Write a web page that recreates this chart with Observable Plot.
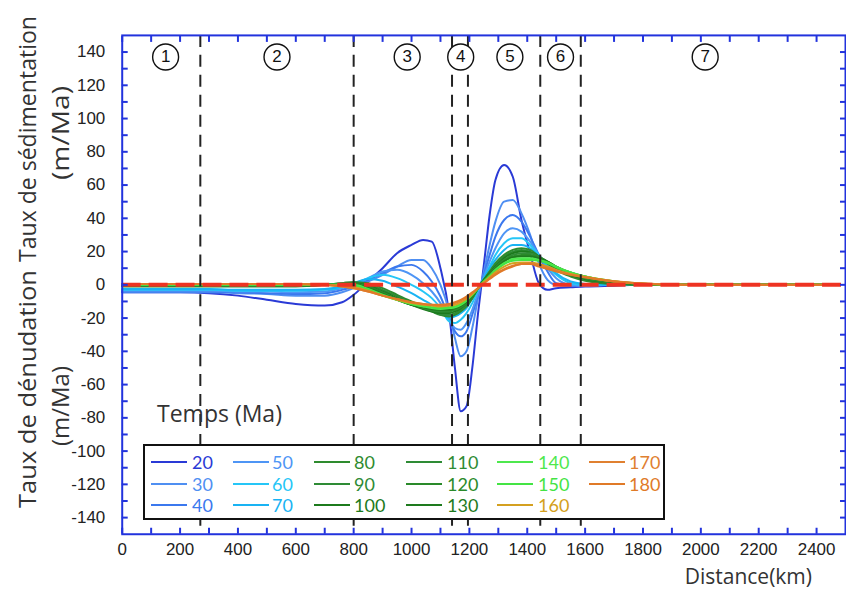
<!DOCTYPE html>
<html><head><meta charset="utf-8">
<script src="https://cdn.jsdelivr.net/npm/d3@7"></script>
<script src="https://cdn.jsdelivr.net/npm/@observablehq/plot@0.6"></script>
<style>
html,body{margin:0;padding:0;background:#fff;overflow:hidden;}
#chart{position:relative;width:846px;height:589px;overflow:hidden;}
#chart svg{position:absolute;left:0;top:0;overflow:visible;}
.legend{position:absolute;left:143px;top:444px;width:522px;height:76px;box-sizing:border-box;border:2px solid #111;background:#fff;}
.legend .ln{position:absolute;width:36px;height:2.5px;}
.legend .lt{position:absolute;font-family:Lato,sans-serif;font-size:18px;line-height:18px;transform:translateY(-50%);}
.temps{position:absolute;left:157px;top:400px;font-family:"Open Sans",sans-serif;font-size:23px;line-height:26px;color:#333;}
.dist{position:absolute;right:34px;top:564px;font-family:"Open Sans",sans-serif;font-size:21px;line-height:24px;color:#333;}
.ytitle{position:absolute;font-family:"Open Sans",sans-serif;font-size:24px;line-height:26px;color:#333;white-space:nowrap;}
</style></head><body><div id="chart"></div>
<script>
// distance grid (km)
const distance = [0, 200, 300, 400, 500, 600, 700, 760, 800, 850, 900, 950, 1000, 1040, 1070, 1100, 1130, 1150, 1170, 1190, 1210, 1230, 1250, 1270, 1290, 1320, 1350, 1380, 1410, 1440, 1470, 1500, 1550, 1600, 1700, 1800, 1900, 2000, 2200, 2450];
// rates (m/Ma) for each time step (Ma)
const s20  = [-4.5,-4.5,-5,-6.5,-9,-11.5,-12.5,-10.5,-6, 2,10,19,24,27,26,10,-17,-50,-76,-73,-50,-17,12,42,63,72,65,39,19,1,-3,-2,-1.5,-1,-0.5,0,0,0,0,0];
const s30  = [-4.5,-4.5,-4.5,-5,-5.5,-6.5,-6.5,-4.5,-2, 2,6,11,15,15,10,0,-16,-32,-43,-40,-26,-8,8,24,38,50,51,43,30,13,3,0,-0.5,-0.5,0,0,0,0,0,0];
const s40  = [-4,-4,-4,-4.5,-5,-5.5,-5,-3,-1, 3,7,11,12,8,2,-7,-20,-28,-31,-28,-18,-6,6,18,29,39,42,38,29,18,8,1,-0.5,0,0,0,0,0,0,0];
const s50  = [-3.5,-3.5,-3.5,-4,-4,-4.5,-4,-2,0, 4,8,9,6,1,-4,-11,-21,-26,-27,-23,-15,-5,5,14,22,31,34,32,26,18,10,4,0,-0.5,0,0,0,0,0,0];
const s60  = [-3,-3,-3,-3.5,-3.5,-3.5,-3,-1.5,0.5, 4,6,4,0,-4,-8,-14,-22,-23,-21,-17,-11,-3,4,11,18,25,28,28,24,18,11,6,1,0,0,0,0,0,0,0];
const s70  = [-2.5,-2.5,-2.5,-3,-3,-3,-2.5,-1,1, 3.5,2.5,-1,-5,-9,-12,-16,-20,-19,-17,-14,-8,-2,4,10,15,21,24,24,22,17,12,7,2,0.5,0,0,0,0,0,0];
const s80  = [-1,-1,-1,-1,-1,-1,0,1,1.5, 1,-2,-6,-10,-13,-15,-18,-19,-18,-16,-13,-8,-2,3,8,13,18,21,22,21,17,13,9,5,2.5,0.5,0,0,0,0,0];
const s90  = [-0.5,-0.5,-0.5,-0.5,-0.5,-0.5,0,1,1.5, 0,-3,-7,-11,-14,-16,-18,-18,-17,-15,-12,-8,-2,3,8,12,17,20,21,20,17,13,9.5,5.5,3,1,0,0,0,0,0];
const s100 = [-0.5,-0.5,-0.5,-0.5,-0.5,-0.5,0,0.5,1, -0.5,-4,-8,-12,-14.5,-16,-17,-17,-16,-14,-11,-7,-2,3,7,11,16,19,20,19.5,17,13.5,10,6,3.5,1,0.2,0,0,0,0];
const s110 = [-0.5,-0.5,-0.5,-0.5,-0.5,-0.5,0,0.5,0.5, -1,-4.5,-8.5,-12,-14,-15.5,-16,-16,-15,-13.5,-11,-7,-2,2.5,6.5,10.5,15,18,19,19,17,14,10.5,6.5,4,1.2,0.3,0,0,0,0];
const s120 = [0,0,0,0,0,0,0,0.5,0.5, -1.5,-5,-9,-12,-13.5,-15,-15.5,-15.5,-14.5,-13,-10.5,-7,-2,2.5,6,10,14.5,17,18,18,16.5,14,11,7,4.5,1.5,0.4,0,0,0,0];
const s130 = [0,0,0,0,0,0,0,0,0, -2,-5.5,-9,-12,-13.5,-14.5,-15,-15,-14,-12.5,-10,-6.5,-2,2.5,6,9.5,14,16.5,17,17,16,14,11,7.5,5,1.8,0.5,0,0,0,0];
const s140 = [0,0,0,0,0,0,0,0,0, -2.5,-6,-9,-11.5,-13,-14,-14.5,-14,-13.5,-12,-9.5,-6,-2,2,5.5,9,13,15.5,16,16,15,13.5,11,7.5,5,2,0.6,0.1,0,0,0];
const s150 = [0,0,0,0,0,0,0,0,-0.5, -3,-6.5,-9,-11.5,-12.5,-13.5,-14,-13.5,-13,-11.5,-9,-6,-2,2,5,8.5,12.5,14.5,15,15,14.5,13,10.5,7.5,5,2.2,0.7,0.2,0,0,0];
const s160 = [0.5,0.5,0.5,0.5,0.5,0.5,0,-0.5,-1.5, -3.5,-6.5,-9,-11,-12,-12.5,-13,-12.5,-12,-10.5,-8.5,-5.5,-2,1.5,4.5,7.5,11,13,13.5,13.5,12.5,11,9,6.5,4.8,2.2,0.8,0.2,0,0,0];
const s170 = [0.5,0.5,0.5,0.5,0.5,0.5,0,-1,-2, -4,-6.5,-8.5,-10.5,-11.5,-12,-12.5,-12,-11,-9.5,-7.5,-5,-2,1,4,6.5,9.5,11.5,12.5,13,12,10.5,8.5,6.2,4.6,2.1,0.8,0.2,0,0,0];
const s180 = [0.5,0.5,0.5,0.5,0.5,0.5,0,-1,-2, -4,-6.5,-8.5,-10.5,-11.5,-12,-12,-11.5,-10.5,-9,-7,-4.5,-2,1,3.5,6,9,11,12.5,12.5,11,9.5,8,6,4.5,2,0.7,0.2,0,0,0];
const times = [20, 30, 40, 50, 60, 70, 80, 90, 100, 110, 120, 130, 140, 150, 160, 170, 180];
const seriesValues = [s20, s30, s40, s50, s60, s70, s80, s90, s100, s110, s120, s130, s140, s150, s160, s170, s180];
const seriesColors = ["#2a3ad6", "#4f8ff2", "#3b78ee", "#4e95f5", "#25c6f7", "#19b3f3", "#2e8b2e", "#2e8b35", "#1c7a1c", "#2e8b35", "#2a8a2a", "#1e7a1e", "#4ee84e", "#44e444", "#d4a020", "#e08030", "#e07a28"];
// zone boundaries and labels (km)
const boundaries = [270, 800, 1140, 1195, 1445, 1585];
const zoneNames = ["1", "2", "3", "4", "5", "6", "7"];
const zoneCenters = [150, 535, 985, 1170, 1340, 1515, 2015];
const zoneY = 137;
// ticks
const xTicks = d3.range(0, 2401, 100);
const xLabels = d3.range(0, 2401, 200);
const yTicks = d3.range(-140, 141, 10);
const yLabels = d3.range(-140, 141, 20);

const rows = [];
times.forEach((t, i) => seriesValues[i].forEach((v, j) => rows.push({time: t, x: distance[j], y: v})));

const blue = "#2233dd";
const tickFont = {fontFamily: "'Liberation Sans', Arial, sans-serif", fontSize: 17, fill: "#222"};

const plot = Plot.plot({
  width: 848, height: 589,
  marginLeft: 122, marginRight: 1, marginTop: 35, marginBottom: 54,
  style: {background: "transparent", overflow: "visible"},
  x: {domain: [0, 2500]},
  y: {domain: [-150, 150]},
  color: {domain: times, range: seriesColors},
  marks: [
    Plot.lineY(rows, {x: "x", y: "y", z: "time", stroke: "time", strokeWidth: 2, curve: "monotone-x"}),
    Plot.ruleY([0], {stroke: "#ee3322", strokeWidth: 4, strokeDasharray: "19,8"}),
    Plot.ruleX(boundaries, {stroke: "#222", strokeWidth: 2, strokeDasharray: "12,8"}),
    Plot.frame({stroke: blue, strokeWidth: 2}),
    Plot.axisY(yTicks, {anchor: "left", tickSize: -6, stroke: blue, strokeWidth: 2, tickFormat: () => "", label: null}),
    Plot.axisY(yTicks, {anchor: "right", tickSize: -6, stroke: blue, strokeWidth: 2, tickFormat: () => "", label: null}),
    Plot.axisX(xTicks, {anchor: "bottom", tickSize: -6, stroke: blue, strokeWidth: 2, tickFormat: () => "", label: null}),
    Plot.axisX(xTicks, {anchor: "top", tickSize: -6, stroke: blue, strokeWidth: 2, tickFormat: () => "", label: null}),
    Plot.axisY(yLabels, {anchor: "left", tickSize: 0, tickPadding: 17, tickFormat: d => String(d), label: null, ...tickFont}),
    Plot.axisX(xLabels, {anchor: "bottom", tickSize: 0, tickPadding: 9, tickFormat: d => String(d), label: null, ...tickFont}),
    Plot.dot(zoneCenters, {x: d => d, y: () => zoneY, r: 13, stroke: "#111", strokeWidth: 1.4, fill: "white"}),
    Plot.text(zoneNames, {x: (d, i) => zoneCenters[i], y: () => zoneY, text: d => d, fontSize: 17, fill: "#111", fontFamily: "'Liberation Sans', Arial, sans-serif"})
  ]
});
const chart = document.getElementById("chart");
chart.appendChild(plot);

// rotated y titles, stretched to the reference length
const yTitles = [
  {text: "Taux de sédimentation", cx: 27, cy: 139, len: 246},
  {text: "(m/Ma)", cx: 60, cy: 133, len: 94},
  {text: "Taux de dénudation", cx: 27, cy: 389, len: 238},
  {text: "(m/Ma)", cx: 60, cy: 406, len: 80}
];
yTitles.forEach(t => {
  const d = document.createElement("div");
  d.className = "ytitle";
  d.textContent = t.text;
  chart.appendChild(d);
  const w = d.getBoundingClientRect().width;
  const h = d.getBoundingClientRect().height;
  const s = t.len / w;
  d.style.left = (t.cx - w / 2) + "px";
  d.style.top = (t.cy - h / 2) + "px";
  d.style.transform = `rotate(-90deg) scaleX(${s})`;
});

// legend overlay
const legend = document.createElement("div");
legend.className = "legend";
const colLine = [6, 88, 169, 261, 352, 444];
const colText = [47, 127, 209, 302, 393, 484];
const rowY = [16, 38, 59];
times.forEach((t, i) => {
  const c = Math.floor(i / 3), r = i % 3;
  const ln = document.createElement("div");
  ln.className = "ln";
  ln.style.left = colLine[c] + "px";
  ln.style.top = (rowY[r] - 1.25) + "px";
  ln.style.background = seriesColors[i];
  const lt = document.createElement("div");
  lt.className = "lt";
  lt.style.left = colText[c] + "px";
  lt.style.top = rowY[r] + "px";
  lt.style.color = seriesColors[i];
  lt.textContent = String(t);
  legend.appendChild(ln);
  legend.appendChild(lt);
});
chart.appendChild(legend);
const temps = document.createElement("div");
temps.className = "temps";
temps.textContent = "Temps (Ma)";
chart.appendChild(temps);
const dist = document.createElement("div");
dist.className = "dist";
dist.textContent = "Distance(km)";
chart.appendChild(dist);
</script>
</body></html>
